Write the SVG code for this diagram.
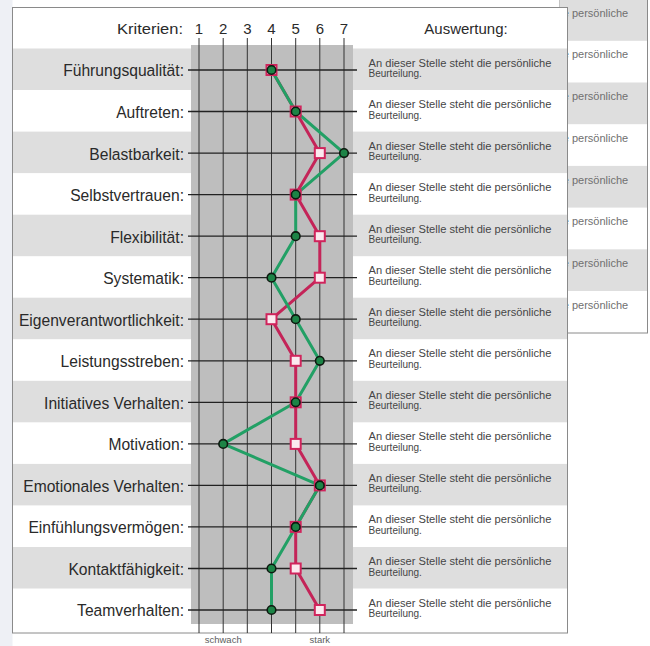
<svg xmlns="http://www.w3.org/2000/svg" xmlns:xlink="http://www.w3.org/1999/xlink" width="650" height="646" viewBox="0 0 650 646">
<style>
.lbl{font-family:"Liberation Sans",Arial,sans-serif;font-size:17px;fill:#2a2a2a;text-anchor:end}
.hdr{font-family:"Liberation Sans",Arial,sans-serif;font-size:15px;fill:#2a2a2a}
.num{font-family:"Liberation Sans",Arial,sans-serif;font-size:15px;fill:#2a2a2a;text-anchor:middle}
.ev{font-family:"Liberation Sans",Arial,sans-serif;font-size:10px;fill:#464646}
.back{font-family:"Liberation Sans",Arial,sans-serif;font-size:11px;fill:#707070}
.foot{font-family:"Liberation Sans",Arial,sans-serif;font-size:9.5px;fill:#606060;text-anchor:middle}
.band{fill:#dedede}
.vl{stroke:#333;stroke-width:1}
.hl{stroke:#222;stroke-width:1.3}
.gline{fill:none;stroke:#22a065;stroke-width:3;stroke-linejoin:round}
.pline{fill:none;stroke:#c42458;stroke-width:3;stroke-linejoin:round}
</style>
<defs>
<rect id="sq" x="-5" y="-5" width="10" height="10" fill="#fbe9ef" stroke="#d0245c" stroke-width="2"/>
<circle id="ci" r="4.3" fill="#1c8446" stroke="#0d1a10" stroke-width="1.6"/>
<clipPath id="backclip"><rect x="568" y="0" width="80" height="333"/></clipPath>
</defs>
<rect x="0" y="0" width="650" height="646" fill="#ffffff"/>
<rect x="0" y="0" width="12.5" height="646" fill="#eef0f5"/>

<g id="back-page">
<rect x="560" y="-5" width="87.5" height="338" fill="#ffffff" stroke="#8a8a8a" stroke-width="1"/>
<rect class="band" x="560" y="0" width="87" height="40.8"/>
<rect class="band" x="560" y="82.5" width="87" height="41.7"/>
<rect class="band" x="560" y="165.9" width="87" height="41.7"/>
<rect class="band" x="560" y="249.3" width="87" height="41.7"/>
<g clip-path="url(#backclip)">
<text class="back" x="562.8" y="16.7">e persönliche</text>
<text class="back" x="562.8" y="58.4">e persönliche</text>
<text class="back" x="562.8" y="100.1">e persönliche</text>
<text class="back" x="562.8" y="141.8">e persönliche</text>
<text class="back" x="562.8" y="183.5">e persönliche</text>
<text class="back" x="562.8" y="225.2">e persönliche</text>
<text class="back" x="562.8" y="266.9">e persönliche</text>
<text class="back" x="562.8" y="308.6">e persönliche</text>
</g>
</g>

<g id="page">
<rect x="12.5" y="7.5" width="555" height="625.5" fill="#ffffff" stroke="#8a8a8a" stroke-width="1"/>
<rect class="band" x="13" y="48.5" width="554" height="41.5"/>
<rect class="band" x="13" y="131.6" width="554" height="41.5"/>
<rect class="band" x="13" y="214.7" width="554" height="41.5"/>
<rect class="band" x="13" y="297.7" width="554" height="41.5"/>
<rect class="band" x="13" y="380.8" width="554" height="41.5"/>
<rect class="band" x="13" y="463.9" width="554" height="41.5"/>
<rect class="band" x="13" y="547" width="554" height="41.5"/>
<rect id="panel" x="191" y="45" width="162" height="579" fill="#bebebe"/>
</g>

<g id="header">
<text class="hdr" x="117" y="34" textLength="66" lengthAdjust="spacingAndGlyphs" font-size="16">Kriterien:</text>
<text class="num" x="199" y="34">1</text>
<text class="num" x="223.2" y="34">2</text>
<text class="num" x="247.3" y="34">3</text>
<text class="num" x="271.5" y="34">4</text>
<text class="num" x="295.7" y="34">5</text>
<text class="num" x="319.8" y="34">6</text>
<text class="num" x="344" y="34">7</text>
<text class="hdr" x="466" y="34" font-size="16" text-anchor="middle">Auswertung:</text>
</g>

<g id="grid">
<line class="vl" x1="199" y1="38" x2="199" y2="633"/>
<line class="vl" x1="223.2" y1="38" x2="223.2" y2="633"/>
<line class="vl" x1="247.3" y1="38" x2="247.3" y2="633"/>
<line class="vl" x1="271.5" y1="38" x2="271.5" y2="633"/>
<line class="vl" x1="295.7" y1="38" x2="295.7" y2="633"/>
<line class="vl" x1="319.8" y1="38" x2="319.8" y2="633"/>
<line class="vl" x1="344" y1="38" x2="344" y2="633"/>
<line class="hl" x1="188" y1="70" x2="357" y2="70"/>
<line class="hl" x1="188" y1="111.5" x2="357" y2="111.5"/>
<line class="hl" x1="188" y1="153.1" x2="357" y2="153.1"/>
<line class="hl" x1="188" y1="194.6" x2="357" y2="194.6"/>
<line class="hl" x1="188" y1="236.2" x2="357" y2="236.2"/>
<line class="hl" x1="188" y1="277.7" x2="357" y2="277.7"/>
<line class="hl" x1="188" y1="319.2" x2="357" y2="319.2"/>
<line class="hl" x1="188" y1="360.8" x2="357" y2="360.8"/>
<line class="hl" x1="188" y1="402.3" x2="357" y2="402.3"/>
<line class="hl" x1="188" y1="443.9" x2="357" y2="443.9"/>
<line class="hl" x1="188" y1="485.4" x2="357" y2="485.4"/>
<line class="hl" x1="188" y1="526.9" x2="357" y2="526.9"/>
<line class="hl" x1="188" y1="568.5" x2="357" y2="568.5"/>
<line class="hl" x1="188" y1="610" x2="357" y2="610"/>
</g>

<g id="labels" transform="scale(0.92 1)">
<text class="lbl" x="200" y="76.5">Führungsqualität:</text>
<text class="lbl" x="200" y="118">Auftreten:</text>
<text class="lbl" x="200" y="159.6">Belastbarkeit:</text>
<text class="lbl" x="200" y="201.1">Selbstvertrauen:</text>
<text class="lbl" x="200" y="242.7">Flexibilität:</text>
<text class="lbl" x="200" y="284.2">Systematik:</text>
<text class="lbl" x="200" y="325.7">Eigenverantwortlichkeit:</text>
<text class="lbl" x="200" y="367.3">Leistungsstreben:</text>
<text class="lbl" x="200" y="408.8">Initiatives Verhalten:</text>
<text class="lbl" x="200" y="450.4">Motivation:</text>
<text class="lbl" x="200" y="491.9">Emotionales Verhalten:</text>
<text class="lbl" x="200" y="533.4">Einfühlungsvermögen:</text>
<text class="lbl" x="200" y="575">Kontaktfähigkeit:</text>
<text class="lbl" x="200" y="616.5">Teamverhalten:</text>
</g>

<g id="evaluations">
<text class="ev" x="368.5" y="66.5" textLength="183" lengthAdjust="spacingAndGlyphs">An dieser Stelle steht die persönliche</text><text class="ev" x="368.5" y="77">Beurteilung.</text>
<text class="ev" x="368.5" y="108" textLength="183" lengthAdjust="spacingAndGlyphs">An dieser Stelle steht die persönliche</text><text class="ev" x="368.5" y="118.5">Beurteilung.</text>
<text class="ev" x="368.5" y="149.6" textLength="183" lengthAdjust="spacingAndGlyphs">An dieser Stelle steht die persönliche</text><text class="ev" x="368.5" y="160.1">Beurteilung.</text>
<text class="ev" x="368.5" y="191.1" textLength="183" lengthAdjust="spacingAndGlyphs">An dieser Stelle steht die persönliche</text><text class="ev" x="368.5" y="201.6">Beurteilung.</text>
<text class="ev" x="368.5" y="232.7" textLength="183" lengthAdjust="spacingAndGlyphs">An dieser Stelle steht die persönliche</text><text class="ev" x="368.5" y="243.2">Beurteilung.</text>
<text class="ev" x="368.5" y="274.2" textLength="183" lengthAdjust="spacingAndGlyphs">An dieser Stelle steht die persönliche</text><text class="ev" x="368.5" y="284.7">Beurteilung.</text>
<text class="ev" x="368.5" y="315.7" textLength="183" lengthAdjust="spacingAndGlyphs">An dieser Stelle steht die persönliche</text><text class="ev" x="368.5" y="326.2">Beurteilung.</text>
<text class="ev" x="368.5" y="357.3" textLength="183" lengthAdjust="spacingAndGlyphs">An dieser Stelle steht die persönliche</text><text class="ev" x="368.5" y="367.8">Beurteilung.</text>
<text class="ev" x="368.5" y="398.8" textLength="183" lengthAdjust="spacingAndGlyphs">An dieser Stelle steht die persönliche</text><text class="ev" x="368.5" y="409.3">Beurteilung.</text>
<text class="ev" x="368.5" y="440.4" textLength="183" lengthAdjust="spacingAndGlyphs">An dieser Stelle steht die persönliche</text><text class="ev" x="368.5" y="450.9">Beurteilung.</text>
<text class="ev" x="368.5" y="481.9" textLength="183" lengthAdjust="spacingAndGlyphs">An dieser Stelle steht die persönliche</text><text class="ev" x="368.5" y="492.4">Beurteilung.</text>
<text class="ev" x="368.5" y="523.4" textLength="183" lengthAdjust="spacingAndGlyphs">An dieser Stelle steht die persönliche</text><text class="ev" x="368.5" y="533.9">Beurteilung.</text>
<text class="ev" x="368.5" y="565" textLength="183" lengthAdjust="spacingAndGlyphs">An dieser Stelle steht die persönliche</text><text class="ev" x="368.5" y="575.5">Beurteilung.</text>
<text class="ev" x="368.5" y="606.5" textLength="183" lengthAdjust="spacingAndGlyphs">An dieser Stelle steht die persönliche</text><text class="ev" x="368.5" y="617">Beurteilung.</text>
</g>

<g id="connectors">
<polyline class="pline" points="271.5,70 295.7,111.5 319.8,153.1 295.7,194.6 319.8,236.2 319.8,277.7 271.5,319.2 295.7,360.8 295.7,402.3 295.7,443.9 319.8,485.4 295.7,526.9 295.7,568.5 319.8,610"/>
<polyline class="gline" points="271.5,70 295.7,111.5 344,153.1 295.7,194.6 295.7,236.2 271.5,277.7 295.7,319.2 319.8,360.8 295.7,402.3 223.2,443.9 319.8,485.4 295.7,526.9 271.5,568.5 271.5,610"/>
</g>

<g id="markers-red">
<use xlink:href="#sq" x="271.5" y="70"/>
<use xlink:href="#sq" x="295.7" y="111.5"/>
<use xlink:href="#sq" x="319.8" y="153.1"/>
<use xlink:href="#sq" x="295.7" y="194.6"/>
<use xlink:href="#sq" x="319.8" y="236.2"/>
<use xlink:href="#sq" x="319.8" y="277.7"/>
<use xlink:href="#sq" x="271.5" y="319.2"/>
<use xlink:href="#sq" x="295.7" y="360.8"/>
<use xlink:href="#sq" x="295.7" y="402.3"/>
<use xlink:href="#sq" x="295.7" y="443.9"/>
<use xlink:href="#sq" x="319.8" y="485.4"/>
<use xlink:href="#sq" x="295.7" y="526.9"/>
<use xlink:href="#sq" x="295.7" y="568.5"/>
<use xlink:href="#sq" x="319.8" y="610"/>
</g>
<g id="markers-green">
<use xlink:href="#ci" x="271.5" y="70"/>
<use xlink:href="#ci" x="295.7" y="111.5"/>
<use xlink:href="#ci" x="344" y="153.1"/>
<use xlink:href="#ci" x="295.7" y="194.6"/>
<use xlink:href="#ci" x="295.7" y="236.2"/>
<use xlink:href="#ci" x="271.5" y="277.7"/>
<use xlink:href="#ci" x="295.7" y="319.2"/>
<use xlink:href="#ci" x="319.8" y="360.8"/>
<use xlink:href="#ci" x="295.7" y="402.3"/>
<use xlink:href="#ci" x="223.2" y="443.9"/>
<use xlink:href="#ci" x="319.8" y="485.4"/>
<use xlink:href="#ci" x="295.7" y="526.9"/>
<use xlink:href="#ci" x="271.5" y="568.5"/>
<use xlink:href="#ci" x="271.5" y="610"/>
</g>

<g id="footer">
<text class="foot" x="223.2" y="643">schwach</text>
<text class="foot" x="319.8" y="643">stark</text>
</g>
</svg>
